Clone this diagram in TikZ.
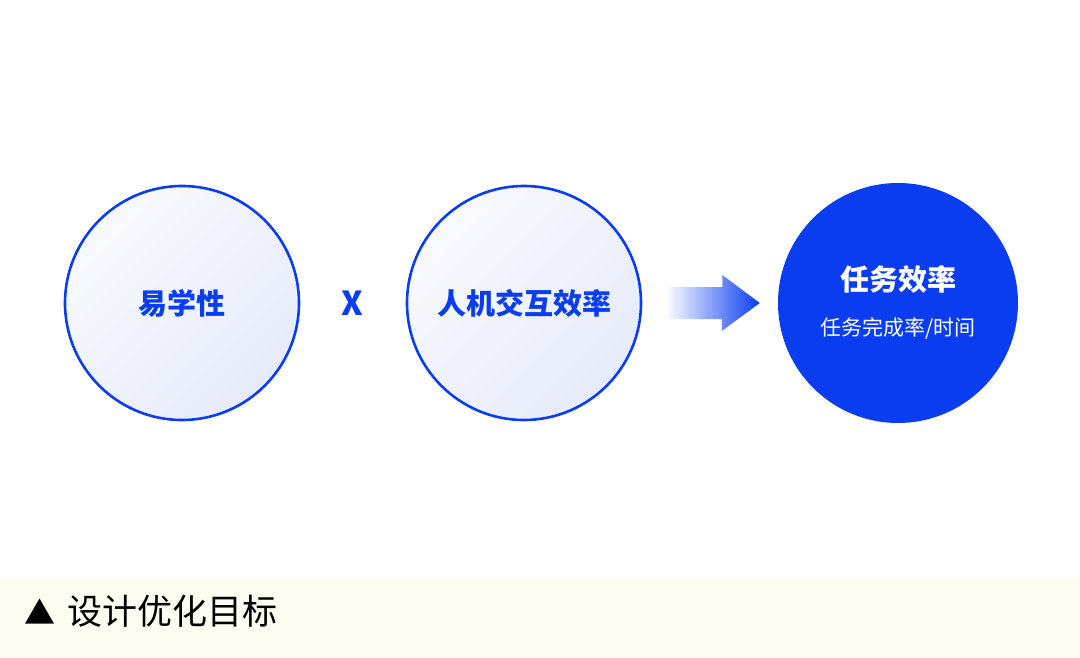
\documentclass[tikz,border=0pt]{standalone}
\usepackage{xcolor}
\usepackage{fontspec}
\usepackage{tikz}
\usetikzlibrary{positioning,calc}

\newfontfamily\cjk{Noto Sans CJK SC}

\definecolor{mainblue}{HTML}{0A3DF0}
\definecolor{softA}{HTML}{F9FAFE}
\definecolor{softB}{HTML}{E6EBFA}
\definecolor{captionbg}{HTML}{FEFCF0}

\begin{document}
\begin{tikzpicture}[x=1pt, y=-1pt,
    goal/.style={circle, draw=mainblue, line width=2.6pt, minimum size=234pt, inner sep=0pt,
        top color=softA, bottom color=softB, shading angle=45},
    result/.style={circle, fill=mainblue, minimum size=240pt, inner sep=0pt},
    bigword/.style={font=\cjk\bfseries\fontsize{29}{29}\selectfont, text=mainblue}
    ]
        % Canvas
        \useasboundingbox (0,0) rectangle (1080,658);

        % Define coordinates for the circle centres
        \coordinate (P1) at (182,303);
        \coordinate (P2) at (524,303);
        \coordinate (P3) at (898,303);

        % --- Input circles ---
        \node[goal] (learn) at (P1) {};
        \node[bigword] at (learn.center) {易学性};

        \node[goal] (hci) at (P2) {};
        \node[bigword] at (hci.center) {人机交互效率};

        % Multiplication sign
        \node[bigword, font=\cjk\bfseries\fontsize{33}{33}\selectfont] (times) at (352,303) {X};

        % --- Result circle ---
        \node[result] (task) at (P3) {};
        \node[text=white, font=\cjk\bfseries\fontsize{29}{29}\selectfont] (title) at (898,279) {任务效率};
        \node[text=white, font=\cjk\fontsize{21}{21}\selectfont] (sub) at (898,328) {任务完成率/时间};

        % Gradient arrow between the circles
        \coordinate (a0) at ($(hci.east)+(23,0)$);
        \coordinate (a1) at ($(task.west)+(-18,0)$);
        \shade[left color=white, right color=mainblue]
            (a0) ++(0,-16) -- ++(57,0) -- ++(0,-12) -- (a1)
            -- ($(a1)+(-38,28)$) -- ++(0,-12) -- ($(a0)+(0,16)$) -- cycle;

        % --- Caption band ---
        \fill[captionbg] (0,578) rectangle (1080,658);
        \node[anchor=west, inner sep=0pt, font=\cjk\fontsize{35}{35}\selectfont] (caption) at (24,611)
            {{\fontsize{31}{31}\selectfont ▲}\hspace{12pt}设计优化目标};

    \end{tikzpicture}
\end{document}
